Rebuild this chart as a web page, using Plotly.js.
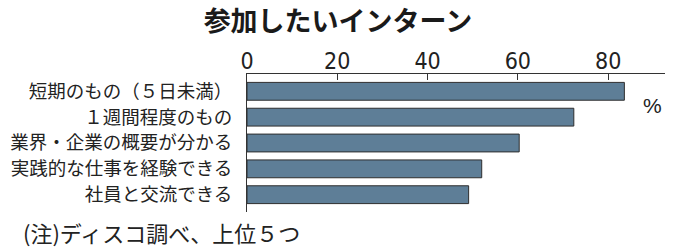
<!DOCTYPE html>
<html>
<head>
<meta charset="utf-8">
<script src="https://cdn.plot.ly/plotly-3.0.1.min.js"></script>
<style>html,body{margin:0;padding:0;background:#fff;}#chart{width:680px;height:251px;}</style>
</head>
<body>
<div id="chart"></div>
<script>
var categories = ["短期のもの（５日未満）", "１週間程度のもの", "業界・企業の概要が分かる", "実践的な仕事を経験できる", "社員と交流できる"];
var values = [83.6, 72.4, 60.3, 52.0, 49.1];
var tickValues = [0, 20, 40, 60, 80];
var titleText = "参加したいインターン";
var unitText = "%";
var noteText = "(注)ディスコ調べ、上位５つ";

var jp = '"Noto Sans CJK JP", "Noto Sans", sans-serif';
var narrow = '"Liberation Sans Narrow", "DejaVu Sans Condensed", "Liberation Sans", sans-serif';
var trace = {
  type: 'bar',
  orientation: 'h',
  x: values,
  y: categories,
  width: 0.69,
  marker: {color: '#5e7e97', line: {color: '#2e2e2e', width: 1}},
  hoverinfo: 'none'
};
var layout = {
  width: 680, height: 251,
  margin: {l: 247, r: 15, t: 74, b: 39},
  paper_bgcolor: '#fff', plot_bgcolor: '#fff',
  showlegend: false,
  title: {text: titleText, x: 0.497, xanchor: 'center', y: 0.916, yanchor: 'middle',
          font: {family: jp, size: 27, color: '#1a1a1a', weight: 'bold'}},
  xaxis: {
    side: 'top', range: [0, 92.6], tickvals: tickValues, ticktext: tickValues.map(String),
    ticks: 'inside', ticklen: 6, tickcolor: '#333', tickwidth: 1,
    showline: true, linecolor: '#333', linewidth: 1, showgrid: false, zeroline: false,
    ticklabelstandoff: -5,
    tickfont: {family: narrow, size: 23, color: '#222'},
    fixedrange: true
  },
  yaxis: {
    type: 'category', range: [4.67, -0.67],
    showline: true, linecolor: '#333', linewidth: 1, showgrid: false, zeroline: false,
    ticks: '', ticklabelstandoff: 10,
    tickfont: {family: jp, size: 18.5, color: '#222'},
    fixedrange: true
  },
  annotations: [
    {text: unitText, xref: 'paper', yref: 'paper', x: 0.969, y: 0.775, xanchor: 'center', yanchor: 'middle',
     showarrow: false, font: {family: '"Liberation Sans", Arial, sans-serif', size: 21, color: '#222'}},
    {text: noteText, xref: 'paper', yref: 'paper', x: -0.541, y: -0.145, xanchor: 'left', yanchor: 'middle',
     showarrow: false, font: {family: jp, size: 22, color: '#222'}}
  ]
};
Plotly.newPlot('chart', [trace], layout, {displayModeBar: false, staticPlot: true});
</script>
</body>
</html>
